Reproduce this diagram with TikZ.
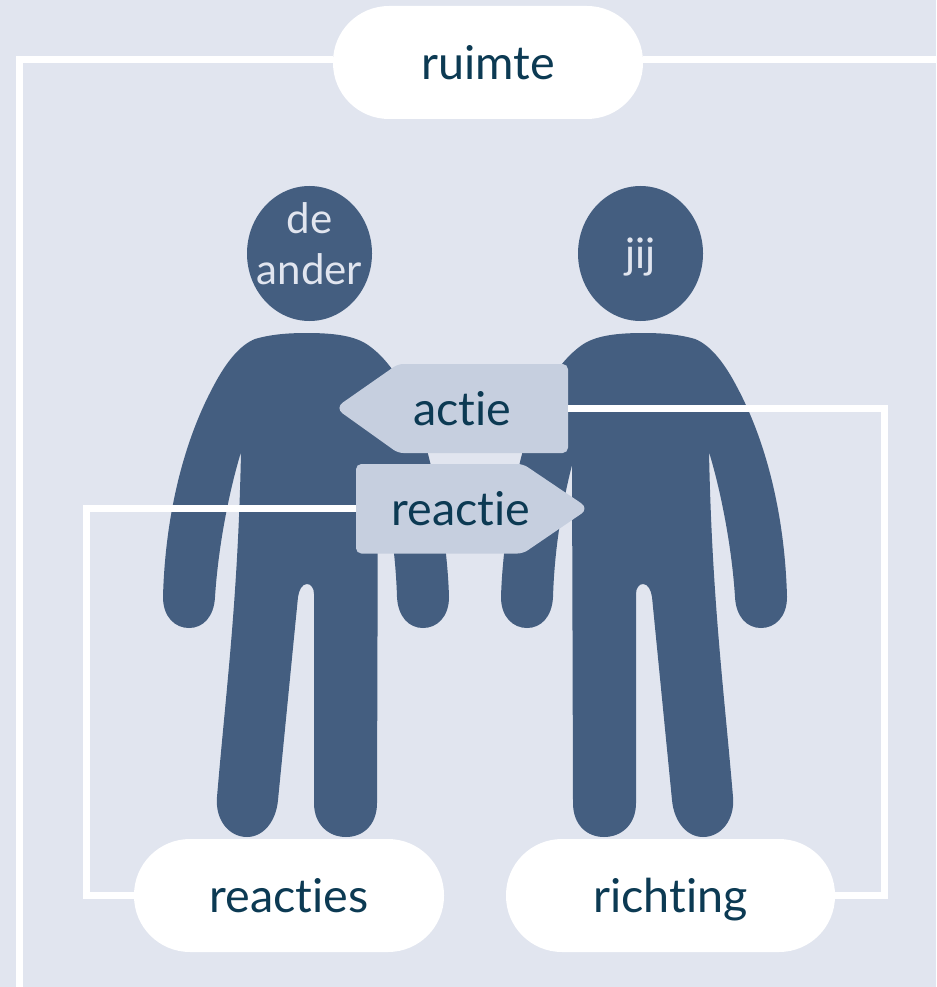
\documentclass[tikz,border=0pt]{standalone}
\usepackage{fontspec}
\setmainfont[Ligatures=NoCommon]{Lato}
\usetikzlibrary{shapes.geometric}
\definecolor{achtergrond}{HTML}{E1E5EF}
\definecolor{figuur}{HTML}{445E80}
\definecolor{pijlkleur}{HTML}{C6CFDF}
\definecolor{tekst}{HTML}{0C3A53}
\tikzset{
	persoon/.style={fill=figuur},
	hoofd/.style={ellipse,fill=figuur,minimum width=93.75pt,minimum height=101.25pt,inner sep=0pt},
	hoofdtekst/.style={text=achtergrond,inner sep=0pt,align=center,font=\fontsize{31.5}{38.5}\selectfont},
	pil/.style={fill=white,text=tekst,rounded corners=42pt,minimum height=84.75pt,inner sep=0pt,text height=32pt,text depth=6.5pt,font=\fontsize{35}{40}\selectfont},
	pijl/.style={fill=pijlkleur},
	pijltekst/.style={text=tekst,minimum height=66.75pt,inner sep=0pt,text height=32pt,text depth=6.5pt,font=\fontsize{35}{40}\selectfont},
	lijn/.style={draw=white,line width=5.25pt}
}
\begin{document}
\begin{tikzpicture}[x=0.75pt,y=-0.75pt]
	\useasboundingbox (0,0) rectangle (936,987);
	\fill[achtergrond] (0,0) rectangle (936,987);
	\foreach \sx/\ox in {1/0,-1/950}
	{\fill[persoon,shift={(\ox,0)},xscale=\sx] (307,333) .. controls (335,333) and (355,336) .. (368,345)
		.. controls (385,357) and (398,375) .. (410,400)
		.. controls (430,445) and (447,530) .. (449,597)
		.. controls (449,617) and (437,628) .. (423,628)
		.. controls (409,628) and (398,617) .. (397,597)
		.. controls (396,565) and (392,520) .. (378,465)
		-- (377,803)
		.. controls (377,825) and (363,837) .. (346,837)
		.. controls (329,837) and (314,825) .. (314,803)
		-- (314,594)
		.. controls (314,588) and (311,584) .. (307,584)
		.. controls (302,584) and (299,590) .. (298,597)
		-- (278,800)
		.. controls (276,822) and (263,837) .. (247,837)
		.. controls (229,837) and (215,820) .. (217,797)
		.. controls (226,690) and (238,600) .. (241,452)
		.. controls (228,495) and (218,550) .. (215,597)
		.. controls (214,617) and (203,628) .. (189,628)
		.. controls (175,628) and (163,617) .. (163,597)
		.. controls (165,520) and (182,445) .. (213,387)
		.. controls (226,362) and (240,345) .. (255,339)
		.. controls (272,334) and (290,333) .. (307,333) -- cycle;}
	\node[hoofd] (ander) at (309.5,253.5) {};
	\node[hoofd] (jij) at (640.5,253.5) {};
	\node[hoofdtekst,yshift=7.5pt] (andertekst) at (ander) {de\\ander};
	\node[hoofdtekst,yshift=-3pt] (jijtekst) at (jij) {jij};
	% pijlen
	\fill[pijl,rounded corners=4pt] (568,453) -- (568,364) -- (398,364) [rounded corners=7pt] -- (335,408) [rounded corners=4pt] -- (398,453) -- cycle;
	\fill[pijl,rounded corners=4pt] (356,464) -- (356,553.5) -- (523,553.5) [rounded corners=7pt] -- (589,508.5) [rounded corners=4pt] -- (523,464) -- cycle;
	\node[pijltekst,minimum width=158.25pt] (actie) at (462.5,408.5) {actie};
	\node[pijltekst,minimum width=157.5pt] (reactie) at (461,508.5) {reactie};
	% labels
	\node[pil,minimum width=232.5pt] (ruimte) at (488,62.5) {ruimte};
	\node[pil,minimum width=232.5pt] (reacties) at (289,895.5) {reacties};
	\node[pil,minimum width=246.75pt] (richting) at (670.5,895.5) {richting};
	\coordinate (kaderlinks) at (19,987);
	\coordinate (kaderrechts) at (936,59.5);
	\coordinate (hoeklinks) at (86,895.5);
	\coordinate (hoekrechts) at (884,895.5);
	\draw[lijn] (ruimte.west |- kaderrechts) -| (kaderlinks);
	\draw[lijn] (ruimte.east |- kaderrechts) -- (kaderrechts);
	\draw[lijn] (reactie.west) -| (hoeklinks) -- (reacties.west);
	\draw[lijn] (actie.east) -| (hoekrechts) -- (richting.east);
\end{tikzpicture}
\end{document}
